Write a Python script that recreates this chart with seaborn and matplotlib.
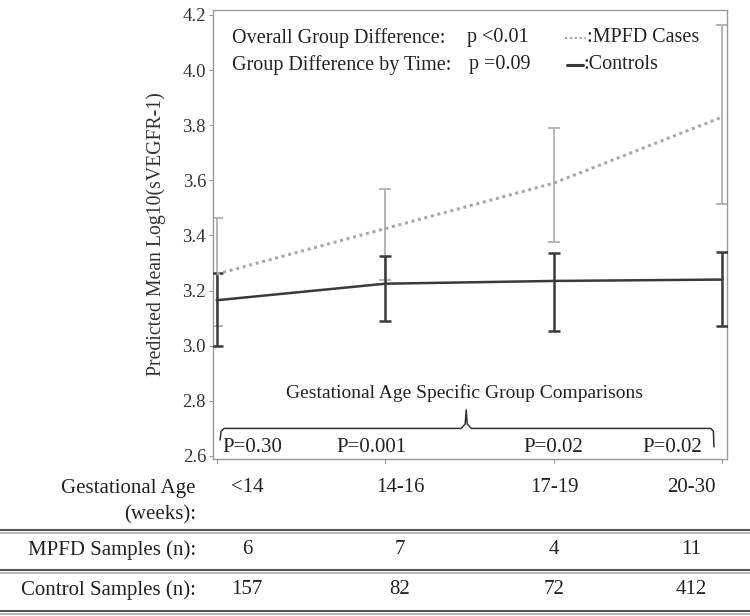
import matplotlib
matplotlib.use("Agg")
import matplotlib.pyplot as plt
import seaborn as sns
import numpy as np
from matplotlib.lines import Line2D

# ---------------- data ----------------
ages = ["<14", "14-16", "17-19", "20-30"]
mpfd_mean = [3.26, 3.425, 3.59, 3.83]
mpfd_lo = [3.07, 3.24, 3.375, 3.515]
mpfd_hi = [3.465, 3.57, 3.79, 4.165]
ctrl_mean = [3.165, 3.225, 3.235, 3.24]
ctrl_lo = [3.0, 3.09, 3.055, 3.07]
ctrl_hi = [3.265, 3.325, 3.335, 3.34]
p_values = ["P=0.30", "P=0.001", "P=0.02", "P=0.02"]
mpfd_n = ["6", "7", "4", "11"]
ctrl_n = ["157", "82", "72", "412"]
y_ticks = [2.6, 2.8, 3.0, 3.2, 3.4, 3.6, 3.8, 4.0, 4.2]

sns.set_theme(style="white")
plt.rcParams['font.family'] = ['Liberation Serif', 'DejaVu Serif']

W, H = 750, 616
fig = plt.figure(figsize=(7.5, 6.16), dpi=100)
fig.patch.set_facecolor("white")

def fx(x):
    return x / W

def fy(y):
    return 1 - y / H

ax = fig.add_axes([fx(213), fy(459), fx(727) - fx(213), fy(10) - fy(459)])
ax.set_facecolor("white")

xpos = np.arange(len(ages))

mm = np.array(mpfd_mean)
cm = np.array(ctrl_mean)
ax.errorbar(xpos, mm, yerr=[mm - np.array(mpfd_lo), np.array(mpfd_hi) - mm],
            fmt='none', ecolor="#b4b4b4", elinewidth=1.4, capsize=4, capthick=1.4, zorder=2)
ax.errorbar(xpos, cm, yerr=[cm - np.array(ctrl_lo), np.array(ctrl_hi) - cm],
            fmt='none', ecolor="#3a3a3a", elinewidth=1.8, capsize=4, capthick=1.8, zorder=3)

sns.lineplot(x=xpos, y=mpfd_mean, ax=ax, color="#a8a8a8", linestyle=(0, (1, 1.2)),
             linewidth=2.2, zorder=4)
sns.lineplot(x=xpos, y=ctrl_mean, ax=ax, color="#3a3a3a", linewidth=1.8, zorder=5)

ax.set_xlim(-0.022, 3.027)
ax.set_ylim(2.589, 4.218)
ax.set_yticks(y_ticks)
ax.set_yticklabels([f"{v:.1f}" for v in y_ticks], fontsize=13.5, color="#333333")
ax.set_xticks(xpos)
ax.set_xticklabels([])
ax.tick_params(axis='both', direction='out', length=3, width=0.8, color="#999999", pad=2)
ax.tick_params(axis='y', left=True)
ax.tick_params(axis='x', bottom=True)
for s in ax.spines.values():
    s.set_color("#9a9a9a")
    s.set_linewidth(1.0)

ax.set_ylabel("Predicted Mean Log10(sVEGFR-1)", fontsize=14.2, color="#333333", labelpad=12)

tc = "#222222"
fs_top = 14.5
ax.text(0.091, 4.117, "Overall Group Difference:", fontsize=fs_top, color=tc, va='center', ha='left')
ax.text(0.091, 4.019, "Group Difference by Time:", fontsize=fs_top, color=tc, va='center', ha='left')
ax.text(1.485, 4.117, "p <0.01", fontsize=fs_top, color=tc, va='center', ha='left')
ax.text(1.497, 4.019, "p =0.09", fontsize=fs_top, color=tc, va='center', ha='left')
ax.plot([2.068, 2.19], [4.117, 4.117], color="#a8a8a8", linestyle=(0, (1, 1.2)), linewidth=1.6)
ax.text(2.196, 4.117, ":MPFD Cases", fontsize=fs_top, color=tc, va='center', ha='left')
ax.plot([2.078, 2.172], [4.019, 4.019], color="#3a3a3a", linewidth=2.2)
ax.text(2.173, 4.019, ":Controls", fontsize=fs_top, color=tc, va='center', ha='left')

ax.text(1.47, 2.829, "Gestational Age Specific Group Comparisons", fontsize=14,
        color=tc, ha='center', va='center')
bx = [0.02, 0.026, 0.045, 1.45, 1.474, 1.48, 1.486, 1.51, 2.93, 2.946, 2.95]
by = [2.658, 2.69, 2.70, 2.70, 2.716, 2.767, 2.716, 2.70, 2.70, 2.69, 2.633]
ax.plot(bx, by, color="#333333", linewidth=1.1)

p_x = [0.032, 0.918, 1.995, 2.70]
p_ha = ['left', 'center', 'center', 'center']
for x, t, ha in zip(p_x, p_values, p_ha):
    ax.text(x, 2.631, t, fontsize=15, color=tc, ha=ha, va='center')

# ---------------- table below ----------------
col_px = [247, 400, 554, 691]
fs_tab = 15
for x, t in zip(col_px, ages):
    fig.text(fx(x), fy(488), t, fontsize=fs_tab, color=tc, ha='center', va='center')
for x, t in zip(col_px, mpfd_n):
    fig.text(fx(x), fy(550), t, fontsize=fs_tab, color=tc, ha='center', va='center')
for x, t in zip(col_px, ctrl_n):
    fig.text(fx(x), fy(590), t, fontsize=fs_tab, color=tc, ha='center', va='center')

fig.text(fx(196), fy(488), "Gestational Age", fontsize=fs_tab, color=tc, ha='right', va='center')
fig.text(fx(196), fy(515), "(weeks):", fontsize=fs_tab, color=tc, ha='right', va='center')
fig.text(fx(196), fy(550), "MPFD Samples (n):", fontsize=fs_tab, color=tc, ha='right', va='center')
fig.text(fx(196), fy(590), "Control Samples (n):", fontsize=fs_tab, color=tc, ha='right', va='center')

for yl in [530, 570, 611]:
    fig.add_artist(Line2D([0, 1], [fy(yl), fy(yl)], transform=fig.transFigure,
                          color="#555555", linewidth=1.5))
    fig.add_artist(Line2D([0, 1], [fy(yl + 2.5), fy(yl + 2.5)], transform=fig.transFigure,
                          color="#aaaaaa", linewidth=1.2))

fig.savefig("out.png", dpi=100, facecolor="white")
